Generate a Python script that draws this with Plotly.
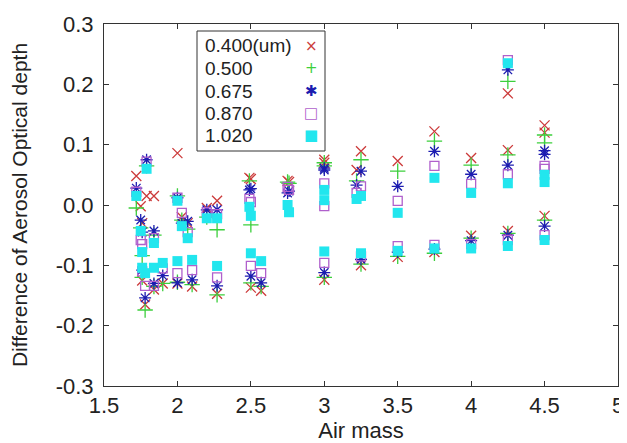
import plotly.graph_objects as go

# Air mass of each observation
air_mass = [1.72, 1.79, 1.75, 1.76, 1.84,
            1.78, 1.76, 1.84, 1.90,
            2.00, 2.03, 2.07, 2.00, 2.10,
            2.20, 2.27, 2.27,
            2.49, 2.50, 2.75, 2.76, 3.00, 3.00,
            2.50, 2.57, 3.00,
            3.25, 3.22, 3.25,
            3.50, 3.50, 3.75, 3.75,
            4.00, 4.00, 4.25, 4.25, 4.25,
            4.50, 4.50, 4.50]

# Difference of aerosol optical depth per wavelength
d_0400 = [0.048, 0.015, -0.002, -0.030, 0.015,
          -0.165, -0.125, -0.140, -0.130,
          0.086, -0.020, -0.030, -0.130, -0.135,
          -0.005, 0.007, -0.147,
          0.045, 0.043, 0.040, 0.038, 0.075, 0.070,
          -0.137, -0.142, -0.124,
          0.089, 0.058, -0.100,
          0.073, -0.086, 0.122, -0.078,
          0.078, -0.051, 0.185, 0.091, -0.043,
          0.132, 0.120, -0.018]
d_0500 = [-0.005, 0.065, -0.038, -0.084, -0.050,
          -0.174, -0.120, -0.135, -0.130,
          0.015, -0.025, -0.040, -0.128, -0.132,
          -0.020, -0.041, -0.149,
          0.040, -0.033, 0.038, 0.036, 0.070, 0.065,
          -0.129, -0.135, -0.120,
          0.075, 0.040, -0.098,
          0.056, -0.085, 0.106, -0.080,
          0.066, -0.055, 0.205, 0.083, -0.047,
          0.116, 0.103, -0.025]
d_0675 = [0.028, 0.075, -0.025, -0.045, -0.043,
          -0.154, -0.108, -0.130, -0.117,
          0.012, -0.030, -0.027, -0.129, -0.124,
          -0.008, -0.008, -0.134,
          0.025, 0.027, 0.020, 0.023, 0.061, 0.058,
          -0.118, -0.129, -0.112,
          0.056, 0.033, -0.090,
          0.031, -0.078, 0.089, -0.073,
          0.051, -0.059, 0.224, 0.066, -0.050,
          0.090, 0.084, -0.035]
d_0870 = [0.022, 0.072, -0.058, -0.065, -0.055,
          -0.134, -0.110, -0.134, -0.105,
          0.012, -0.013, -0.045, -0.113, -0.108,
          -0.012, -0.015, -0.120,
          0.010, 0.005, 0.030, 0.025, 0.036, -0.002,
          -0.101, -0.113, -0.096,
          0.031, 0.020, -0.085,
          0.007, -0.068, 0.065, -0.066,
          0.035, -0.065, 0.240, 0.051, -0.058,
          0.065, 0.060, -0.050]
d_1020 = [0.015, 0.060, -0.043, -0.078, -0.063,
          -0.113, -0.104, -0.104, -0.096,
          0.007, -0.035, -0.055, -0.093, -0.091,
          -0.022, -0.022, -0.101,
          -0.003, -0.018, 0.000, -0.012, 0.025, 0.008,
          -0.080, -0.093, -0.077,
          0.015, 0.010, -0.080,
          -0.013, -0.076, 0.045, -0.072,
          0.020, -0.072, 0.235, 0.036, -0.068,
          0.050, 0.038, -0.058]

series_names = ["0.400(um)", "0.500", "0.675", "0.870", "1.020"]
series_values = [d_0400, d_0500, d_0675, d_0870, d_1020]
colors = ["#cc3b3b", "#3ccf3c", "#1c1cb0", "#b060cc", "#22e6ee"]
symbols = ["x-thin-open", "cross-thin-open", "asterisk-open", "square-open", "square"]
sizes = [10, 11, 10, 9, 10]
legend_glyphs = ["×", "+", "✱", "□", "■"]

x_ticks = [1.5, 2, 2.5, 3, 3.5, 4, 4.5, 5]
y_ticks = [-0.3, -0.2, -0.1, 0.0, 0.1, 0.2, 0.3]
y_tick_text = ["-0.3", "-0.2", "-0.1", "0.0", "0.1", "0.2", "0.3"]

fig = go.Figure()
for name, vals, col, sym, sz in zip(series_names, series_values, colors, symbols, sizes):
    marker = dict(symbol=sym, size=sz, color=col, line=dict(color=col, width=1.3))
    if sym == "square":
        marker["line"] = dict(width=0)
    fig.add_trace(go.Scatter(x=air_mass, y=vals, mode="markers", name=name,
                             marker=marker, showlegend=False))

W, H = 627, 443
L, R, T, B = 96, 17, 16, 65
pw, ph = W - L - R, H - T - B

def px(xp):
    return (xp - L) / pw

def py(yp):
    return (H - B - yp) / ph

font_main = "Liberation Sans, Arial, sans-serif"

# custom legend box (text left, symbol right)
fig.add_shape(type="rect", xref="paper", yref="paper",
              x0=px(189), x1=px(317), y0=py(143), y1=py(23),
              line=dict(color="#333", width=1), fillcolor="white")
row_y = [38, 60, 83, 105, 127]
for name, col, g, ry in zip(series_names, colors, legend_glyphs, row_y):
    fig.add_annotation(xref="paper", yref="paper", x=px(195), y=py(ry),
                       text=name, showarrow=False, xanchor="left", yanchor="middle",
                       font=dict(family=font_main, size=19, color="#222"))
    fig.add_annotation(xref="paper", yref="paper", x=px(303), y=py(ry),
                       text=g, showarrow=False, xanchor="center", yanchor="middle",
                       font=dict(family="DejaVu Sans", size=15, color=col))

axis_common = dict(showgrid=False, zeroline=False, showline=True, linecolor="#333",
                   linewidth=1, mirror="ticks", ticks="inside", ticklen=5,
                   tickcolor="#333", automargin=False,
                   tickfont=dict(family=font_main, size=22, color="#222"))

fig.update_xaxes(range=[1.5, 5], tickvals=x_ticks, ticktext=[str(v) for v in x_ticks],
                 title=dict(text="Air mass", font=dict(family=font_main, size=22, color="#222"),
                            standoff=4),
                 **axis_common)
fig.update_yaxes(range=[-0.3, 0.3], tickvals=y_ticks, ticktext=y_tick_text,
                 ticklabelstandoff=5,
                 title=dict(text="Difference of Aerosol Optical depth",
                            font=dict(family=font_main, size=21, color="#222"), standoff=22),
                 **axis_common)

fig.update_layout(width=W, height=H, margin=dict(l=L, r=R, t=T, b=B),
                  plot_bgcolor="white", paper_bgcolor="white")

fig.write_html("out.html")
